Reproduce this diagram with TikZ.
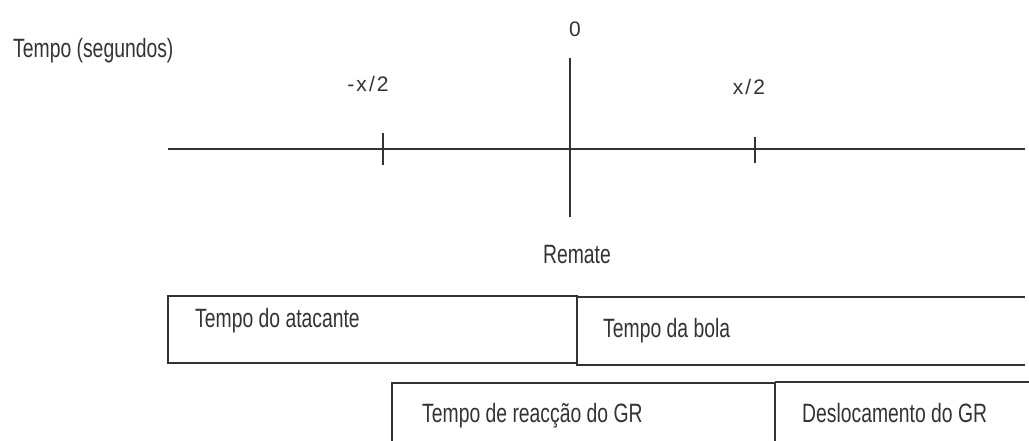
\documentclass[tikz,border=0pt]{standalone}
\usepackage{fontspec}
\setmainfont{Liberation Sans}[FakeStretch=0.73]
\newfontfamily\axisfont{Liberation Sans}[LetterSpace=10]
\usetikzlibrary{positioning}
\definecolor{ink}{HTML}{333333}

\tikzset{
  lbl/.style={anchor=base west,inner sep=0pt,text=ink,font=\fontsize{26.5}{30}\selectfont},
  axlbl/.style={anchor=base,inner sep=0pt,text=ink,font=\axisfont\fontsize{21}{24}\selectfont},
  bar/.style={draw=ink,line width=1.8pt}
}

\begin{document}
\begin{tikzpicture}[x=1pt,y=-1pt]
    \useasboundingbox (0,0) rectangle (1029,441);
    \clip (0,0) rectangle (1029,441);
    % eixo do tempo
    \draw[bar] (168,149) -- (1025,149);
    \draw[bar] (570,58) -- (570,217);
    \draw[bar] (383,133) -- (383,165);
    \draw[bar] (755,137) -- (755,163);
    \node[lbl] (tempo) at (13,58) {Tempo (segundos)};
    \node[axlbl] (zero) at (575,37) {0};
    \node[axlbl] (menos) at (368,92) {-x/2};
    \node[axlbl] (mais) at (749,95) {x/2};
    \node[lbl,anchor=base] (remate) at (577,263) {Remate};
    % barras dos tempos
    \draw[bar] (168,296) rectangle (577,363);
    \draw[bar] (1025,297) -- (577,297) -- (577,365) -- (1025,365);
    \draw[bar] (392,445) -- (392,383) -- (775,383) -- (775,445);
    \draw[bar] (775,382) -- (1030,382);
    \node[lbl] (atacante) at (195,327) {Tempo do atacante};
    \node[lbl] (bola) at (603,337) {Tempo da bola};
    \node[lbl] (reaccao) at (422,422) {Tempo de reacção do GR};
    \node[lbl] (desloc) at (802,422) {Deslocamento do GR};
\end{tikzpicture}
\end{document}
